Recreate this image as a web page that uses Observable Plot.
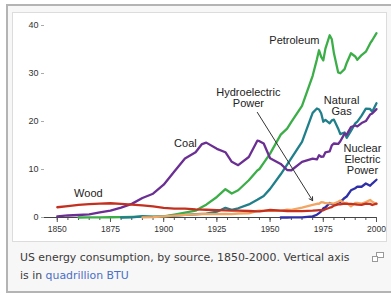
<!DOCTYPE html>
<html>
<head>
<meta charset="utf-8">
<script src="https://cdn.jsdelivr.net/npm/d3@7"></script>
<script src="https://cdn.jsdelivr.net/npm/@observablehq/plot@0.6"></script>
<style>
  html, body { margin: 0; padding: 0; background: #fff; }
  body { width: 391px; height: 295px; overflow: hidden; position: relative; font-family: "Liberation Sans", Arial, sans-serif; }
  .thumb { position: absolute; left: 6px; top: 4px; width: 400px; height: 285px; border: 2px solid #b4b4b4; border-right: none; background: #f7f7f7; }
  .img { position: absolute; left: 12px; top: 12px; width: 373px; height: 228px; border: 1px solid #dcdcdc; background: #fff; }
  .img svg { display: block; }
  .cap { position: absolute; left: 20px; top: 249px; width: 352px; font-family: "DejaVu Sans", Verdana, sans-serif; font-size: 10.9px; line-height: 18px; color: #3a3a3a; white-space: nowrap; }
  .cap a { color: #4a6fc4; text-decoration: none; }
  .icon { position: absolute; left: 372px; top: 252px; width: 12px; height: 10px; }
</style>
</head>
<body>
<div class="thumb"></div>
<div class="img" id="chart"></div>
<div class="cap">US energy consumption, by source, 1850-2000. Vertical axis<br>is in <a>quadrillion BTU</a></div>
<svg class="icon" viewBox="0 0 12 10"><rect x="4.5" y="0.5" width="7" height="5" fill="#fff" stroke="#999"/><rect x="0.5" y="4.5" width="5" height="5" fill="#fff" stroke="#999"/></svg>
<script>
const years = [1850,1855,1860,1865,1870,1875,1880,1885,1890,1895,1900,1905,1910,1915,1918,1920,1925,1929,1932,1935,1940,1944,1945,1947,1950,1955,1958,1960,1965,1970,1972,1973,1974,1975,1976,1978,1979,1980,1982,1983,1985,1986,1988,1990,1991,1993,1995,1997,1998,2000];
const petroleum = [null,null,0.003,0.006,0.011,0.05,0.096,0.12,0.156,0.2,0.229,0.61,1.007,1.418,2.2,2.676,4.28,5.9,5.0,5.675,7.76,9.8,10.11,11.37,13.315,17.255,18.53,19.919,23.246,29.521,32.95,34.84,33.45,32.73,35.18,37.97,37.12,34.2,30.23,30.05,30.92,32.2,34.22,33.55,32.85,33.84,34.55,36.27,36.93,38.4];
const naturalGas = [null,null,null,null,null,null,0,0.04,0.257,0.147,0.252,0.372,0.54,0.673,0.77,0.823,1.21,2.0,1.6,1.92,2.726,3.7,3.973,4.5,5.968,9.0,11.0,12.39,15.77,21.79,22.7,22.51,21.73,19.95,20.35,19.63,20.24,20.39,18.51,17.36,17.7,16.59,18.03,19.6,19.98,21.23,22.67,22.6,22.05,23.82];
const coal = [0.219,0.421,0.518,0.632,1.048,1.44,2.054,2.84,4.062,4.95,6.841,9.6,12.3,13.6,15.3,15.6,14.3,13.6,11.6,10.9,12.6,16.0,15.9,15.4,12.347,11.167,9.9,9.838,11.581,12.265,12.1,12.97,12.66,12.663,13.58,13.77,15.04,15.42,15.32,15.89,17.48,17.26,18.85,19.17,18.99,19.67,20.09,21.45,21.66,22.58];
const nuclear = [null,null,null,null,null,null,null,null,null,null,null,null,null,null,null,null,null,null,null,null,null,null,null,null,null,0,0.002,0.006,0.043,0.239,0.584,0.91,1.272,1.9,2.111,3.024,2.776,2.739,3.131,3.203,4.076,4.38,5.661,6.104,6.422,6.41,7.075,6.597,7.068,7.862];
const hydro = [null,null,null,null,null,null,null,null,0.022,0.08,0.25,0.386,0.539,0.659,0.7,0.738,0.7,0.76,0.7,0.831,0.88,1.4,1.442,1.4,1.415,1.36,1.63,1.608,2.059,2.634,2.86,2.86,3.18,3.155,2.98,2.94,2.93,2.9,3.27,3.53,2.97,3.07,2.33,3.05,3.02,2.89,3.21,3.64,3.3,2.81];
const wood = [2.138,2.389,2.641,2.767,2.893,2.97,2.851,2.683,2.515,2.306,2.015,1.843,1.86,1.702,1.65,1.61,1.534,1.47,1.44,1.424,1.358,1.28,1.261,1.4,1.562,1.424,1.35,1.32,1.335,1.429,1.5,1.53,1.54,1.497,1.71,2.04,2.15,2.483,2.75,2.75,2.88,2.84,2.84,2.735,2.68,2.64,2.876,2.84,2.61,2.9];

const seriesNames = ["Petroleum","Natural Gas","Coal","Nuclear Electric Power","Hydroelectric Power","Wood"];
const seriesColors = ["#3cae48","#1f7f8a","#6b2f93","#2f2fa8","#f2a664","#c4301f"];
const seriesValues = [petroleum, naturalGas, coal, nuclear, hydro, wood];

const labelText = ["Petroleum","Natural\nGas","Hydroelectric\nPower","Coal","Wood","Nuclear\nElectric\nPower"];
const labelYear = [1961.4, 1983.6, 1939.8, 1910.2, 1864.6, 1993.4];
const labelValue = [36.9, 23.3, 25.0, 15.4, 5.0, 12.1];

const arrowYears = [1944, 1970];
const arrowValues = [21.9, 3.5];

const majorTicks = [1850,1875,1900,1925,1950,1975,2000];
const minorTicks = [1850,1855,1860,1865,1870,1875,1880,1885,1890,1895,1900,1905,1910,1915,1920,1925,1930,1935,1940,1945,1950,1955,1960,1965,1970,1975,1980,1985,1990,1995,2000];
const yTicks = [0,10,20,30,40];

const rows = [];
seriesNames.forEach((name, s) => {
  years.forEach((yr, i) => rows.push({series: name, year: yr, value: seriesValues[s][i]}));
});
const labels = labelText.map((t, i) => ({text: t, year: labelYear[i], value: labelValue[i]}));

const chart = Plot.plot({
  width: 373,
  height: 228,
  marginLeft: 31,
  marginRight: 10,
  marginTop: 12,
  marginBottom: 24,
  x: {domain: [1844, 2000]},
  y: {domain: [0, 40]},
  color: {domain: seriesNames, range: seriesColors},
  style: {fontFamily: "'Liberation Sans', Arial, sans-serif", fontSize: "8.5px", background: "white", color: "#222"},
  marks: [
    Plot.axisY({ticks: yTicks, tickSize: 3, tickPadding: 3, stroke: "#aaa", fill: "#333", label: null, fontSize: 9}),
    Plot.axisX({ticks: minorTicks, tickSize: 3, tickFormat: () => "", label: null, stroke: "#555"}),
    Plot.axisX({ticks: majorTicks, tickSize: 5, tickPadding: 3, tickFormat: d => String(d), label: null, stroke: "#555", fill: "#333"}),
    Plot.ruleY([0], {stroke: "#444"}),
    Plot.line(rows, {x: "year", y: "value", z: "series", stroke: "series", strokeWidth: 2.3, curve: "linear"}),
    Plot.arrow([0], {x1: () => arrowYears[0], y1: () => arrowValues[0], x2: () => arrowYears[1], y2: () => arrowValues[1], stroke: "#333", strokeWidth: 1, headLength: 6}),
    Plot.text(labels, {x: "year", y: "value", text: "text", fontSize: 11, lineHeight: 1.0, fill: "#222"})
  ]
});
document.getElementById("chart").appendChild(chart);
</script>
</body>
</html>
